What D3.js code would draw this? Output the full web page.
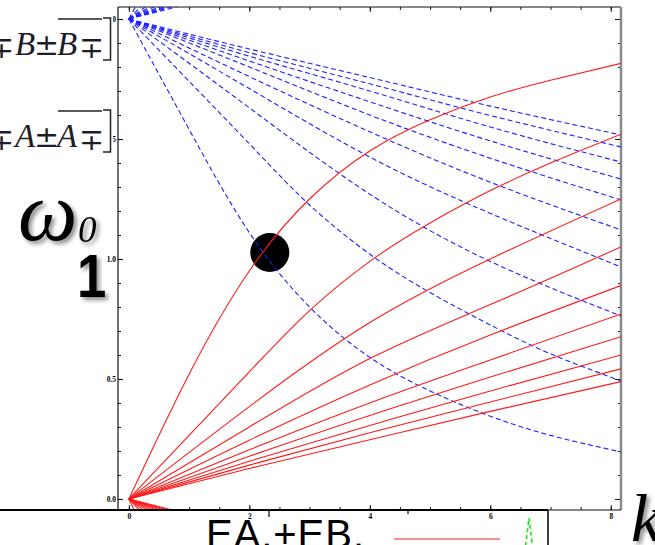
<!DOCTYPE html>
<html>
<head>
<meta charset="utf-8">
<script src="https://cdn.jsdelivr.net/npm/d3@7"></script>
<style>
  html, body { margin: 0; padding: 0; background: #fff; overflow: hidden; }
  svg { display: block; }
</style>
</head>
<body>
<svg id="chart" width="655" height="545"></svg>
<script>
// Plot range (k along x, ω along y)
const kRange = [-0.18, 8.17];
const wRange = [-0.046, 2.05];

// Tick values and labels
const xTickMajor = [0, 2, 4, 6, 8];
const xTickLabels = ["0", "2", "4", "6", "8"];
const xTickMinor = [0, 0.5, 1, 1.5, 2, 2.5, 3, 3.5, 4, 4.5, 5, 5.5, 6, 6.5, 7, 7.5, 8];
const yTickMajor = [0, 0.5, 1, 1.5, 2];
const yTickLabels = ["0.0", "0.5", "1.0", "1.5", "2.0"];
const yTickMinor = [0, 0.1, 0.2, 0.3, 0.4, 0.5, 0.6, 0.7, 0.8, 0.9, 1.0,
                    1.1, 1.2, 1.3, 1.4, 1.5, 1.6, 1.7, 1.8, 1.9, 2.0];

// Lower band: solid red branches leaving ω = 0 at k = 0, as [k, ω]
const lowerBand = [
  [[0, 0], [1, 0.52], [2, 0.95], [3, 1.25], [4, 1.45], [5, 1.58], [6, 1.675], [7, 1.745], [8.17, 1.815]],
  [[0, 0], [2, 0.53], [3, 0.785], [4, 0.99], [5, 1.15], [6, 1.285], [7, 1.40], [8.17, 1.52]],
  [[0, 0], [2, 0.385], [4, 0.735], [6, 1.0], [8.17, 1.25]],
  [[0, 0], [2, 0.30], [4, 0.585], [6, 0.81], [8.17, 1.05]],
  [[0, 0], [2, 0.245], [4, 0.475], [6, 0.683], [8.17, 0.889]],
  [[0, 0], [2, 0.205], [4, 0.40], [6, 0.579], [8.17, 0.771]],
  [[0, 0], [2, 0.178], [4, 0.348], [6, 0.508], [8.17, 0.676]],
  [[0, 0], [2, 0.157], [4, 0.306], [6, 0.45], [8.17, 0.60]],
  [[0, 0], [2, 0.141], [4, 0.276], [6, 0.404], [8.17, 0.542]],
  [[0, 0], [2, 0.127], [4, 0.247], [6, 0.365], [8.17, 0.489]]
];

// Upper band: dashed blue branches leaving ω = 2 at k = 0, as [k, ω]
const upperBand = [
  [[0, 2], [1, 1.54], [2, 1.11], [3, 0.80], [4, 0.59], [5, 0.45], [6, 0.345], [7, 0.265], [8.17, 0.196]],
  [[0, 2], [2, 1.48], [3, 1.225], [4, 1.02], [5, 0.86], [6, 0.725], [7, 0.605], [8.17, 0.492]],
  [[0, 2], [2, 1.63], [4, 1.27], [6, 0.99], [8.17, 0.7625]],
  [[0, 2], [2, 1.71], [4, 1.425], [6, 1.19], [8.17, 0.967]],
  [[0, 2], [2, 1.76], [4, 1.53], [6, 1.32], [8.17, 1.121]],
  [[0, 2], [2, 1.80], [4, 1.60], [6, 1.42], [8.17, 1.246]],
  [[0, 2], [2, 1.825], [4, 1.655], [6, 1.492], [8.17, 1.333]],
  [[0, 2], [2, 1.845], [4, 1.70], [6, 1.55], [8.17, 1.404]],
  [[0, 2], [2, 1.86], [4, 1.73], [6, 1.598], [8.17, 1.467]],
  [[0, 2], [2, 1.875], [4, 1.756], [6, 1.637], [8.17, 1.517]]
];

// Each band also has its ± partner reflected about the band edge
const bandEdges = { lower: 0, upper: 2 };

// Crossing point of the first pair of branches
const crossing = [2.34, 1.027];

const svg = d3.select("#chart");
const frame = { left: 118, right: 621, top: 7, bottom: 510 };

const x = d3.scaleLinear().domain(kRange).range([frame.left, frame.right]);
const y = d3.scaleLinear().domain(wRange).range([frame.bottom, frame.top]);

// Drop shadow used by the large symbols
const defs = svg.append("defs");
const sh = defs.append("filter").attr("id", "shadow")
  .attr("x", "-30%").attr("y", "-30%").attr("width", "170%").attr("height", "170%");
sh.append("feGaussianBlur").attr("in", "SourceAlpha").attr("stdDeviation", 2.2).attr("result", "b");
sh.append("feOffset").attr("in", "b").attr("dx", 3).attr("dy", 3).attr("result", "o");
sh.append("feComponentTransfer").attr("in", "o").attr("result", "s")
  .append("feFuncA").attr("type", "linear").attr("slope", 0.45);
const m = sh.append("feMerge");
m.append("feMergeNode").attr("in", "s");
m.append("feMergeNode").attr("in", "SourceGraphic");

defs.append("clipPath").attr("id", "plotclip").append("rect")
  .attr("x", frame.left).attr("y", frame.top)
  .attr("width", frame.right - frame.left).attr("height", frame.bottom - frame.top);

// Axes (ticks point inward, Mathematica frame style)
const tickFont = "bold 7.5px 'Liberation Serif', 'Times New Roman', serif";

function styleAxis(g) {
  g.select(".domain").remove();
  g.selectAll("line").attr("stroke", "#000").attr("stroke-width", 0.9);
  g.selectAll("text").style("font", tickFont).attr("fill", "#000");
}

svg.append("g").attr("transform", `translate(${frame.left},0)`)
  .call(d3.axisLeft(y).tickValues(yTickMinor).tickSize(-3).tickFormat(""))
  .call(styleAxis);
svg.append("g").attr("transform", `translate(${frame.left},0)`)
  .call(d3.axisLeft(y).tickValues(yTickMajor).tickSizeInner(-5).tickPadding(2)
    .tickFormat((d, i) => yTickLabels[i]))
  .call(styleAxis);

svg.append("g").attr("transform", `translate(${frame.right},0)`)
  .call(d3.axisRight(y).tickValues(yTickMinor).tickSize(-3).tickFormat(""))
  .call(styleAxis);
svg.append("g").attr("transform", `translate(${frame.right},0)`)
  .call(d3.axisRight(y).tickValues(yTickMajor).tickSize(-6).tickFormat(""))
  .call(styleAxis);

svg.append("g").attr("transform", `translate(0,${frame.bottom})`)
  .call(d3.axisBottom(x).tickValues(xTickMinor).tickSize(-3).tickFormat(""))
  .call(styleAxis);
svg.append("g").attr("transform", `translate(0,${frame.bottom})`)
  .call(d3.axisBottom(x).tickValues(xTickMajor).tickSizeInner(-5).tickPadding(4)
    .tickFormat((d, i) => xTickLabels[i]))
  .call(styleAxis);

svg.append("g").attr("transform", `translate(0,${frame.top})`)
  .call(d3.axisTop(x).tickValues(xTickMinor).tickSize(-3).tickFormat(""))
  .call(styleAxis);
svg.append("g").attr("transform", `translate(0,${frame.top})`)
  .call(d3.axisTop(x).tickValues(xTickMajor).tickSize(-5).tickFormat(""))
  .call(styleAxis);

// Frame edges
svg.append("line").attr("x1", frame.left).attr("x2", frame.left)
  .attr("y1", frame.top).attr("y2", frame.bottom).attr("stroke", "#111").attr("stroke-width", 1.2);
svg.append("line").attr("x1", frame.left).attr("x2", frame.right)
  .attr("y1", frame.top).attr("y2", frame.top).attr("stroke", "#111").attr("stroke-width", 1.2);
svg.append("line").attr("x1", frame.right).attr("x2", frame.right)
  .attr("y1", frame.top).attr("y2", frame.bottom).attr("stroke", "#8a8a8a").attr("stroke-width", 2.5);
svg.append("line").attr("x1", frame.left).attr("x2", frame.right)
  .attr("y1", frame.bottom).attr("y2", frame.bottom).attr("stroke", "#111").attr("stroke-width", 1.2);

// Curves
const plot = svg.append("g").attr("clip-path", "url(#plotclip)");

plot.append("circle")
  .attr("cx", x(crossing[0])).attr("cy", y(crossing[1])).attr("r", 19.5)
  .attr("fill", "#000");

const line = d3.line().x(d => x(d[0])).y(d => y(d[1])).curve(d3.curveNatural);
const mirror = (pts, edge) => pts.map(d => [d[0], 2 * edge - d[1]]);

upperBand.forEach(c => {
  [c, mirror(c, bandEdges.upper)].forEach(pts => {
    plot.append("path").attr("d", line(pts))
      .attr("fill", "none").attr("stroke", "#2020ff").attr("stroke-width", 1.1)
      .attr("stroke-dasharray", "5,3");
  });
});
lowerBand.forEach(c => {
  [c, mirror(c, bandEdges.lower)].forEach(pts => {
    plot.append("path").attr("d", line(pts))
      .attr("fill", "none").attr("stroke", "#ff1a1a").attr("stroke-width", 1.1);
  });
});

// Bracket expressions at top left
const serif = "'Liberation Serif', 'Times New Roman', serif";
const signFont = "'DejaVu Serif', serif";
function bracketExpr(letter, base) {
  const g = svg.append("g");
  g.append("rect").attr("x", 0).attr("y", base - 47).attr("width", 113).attr("height", 58).attr("fill", "#fff");
  const parts = [
    { t: "\u2213", x: -11, dy: 3, size: 30, fam: signFont, it: false },
    { t: letter, x: 15, dy: 0, size: 33, fam: serif, it: true },
    { t: "\u00B1", x: 34, dy: 0, size: 30, fam: signFont, it: false },
    { t: letter, x: 57, dy: 0, size: 33, fam: serif, it: true },
    { t: "\u2213", x: 79, dy: 3, size: 30, fam: signFont, it: false }
  ];
  parts.forEach(p => {
    g.append("text").attr("x", p.x).attr("y", base + p.dy)
      .style("font-family", p.fam).style("font-size", p.size + "px")
      .style("font-style", p.it ? "italic" : "normal")
      .attr("fill", "#1d1d2a").text(p.t);
  });
  g.append("line").attr("x1", 58).attr("x2", 102).attr("y1", base - 36).attr("y2", base - 36)
    .attr("stroke", "#222").attr("stroke-width", 1.3);
  g.append("path").attr("d", `M103,${base - 37} H110.5 V${base + 5} H103`)
    .attr("fill", "none").attr("stroke", "#222").attr("stroke-width", 1.5);
}
bracketExpr("B", 55);
bracketExpr("A", 147);

// ω₀ and the level 1 marker
svg.append("text").attr("x", 18).attr("y", 240).attr("filter", "url(#shadow)")
  .style("font-family", serif).style("font-style", "italic").style("font-size", "84px")
  .attr("fill", "#000").text("\u03C9");
svg.append("text").attr("x", 78).attr("y", 242).attr("filter", "url(#shadow)")
  .style("font-family", serif).style("font-style", "italic").style("font-size", "37px")
  .attr("fill", "#000").text("0");
svg.append("text").attr("transform", "translate(77,297) scale(0.85,1)").attr("filter", "url(#shadow)")
  .style("font-family", "'Liberation Sans', Arial, sans-serif").style("font-weight", "bold")
  .style("font-size", "62px").attr("fill", "#000").text("1");

// k label
svg.append("text").attr("x", 631).attr("y", 541).attr("filter", "url(#shadow)")
  .style("font-family", serif).style("font-style", "italic").style("font-size", "68px")
  .attr("fill", "#000").text("k");

// Legend strip along the bottom
svg.append("line").attr("x1", 0).attr("x2", 548).attr("y1", 510).attr("y2", 510)
  .attr("stroke", "#000").attr("stroke-width", 2.2);
svg.append("line").attr("x1", 548).attr("x2", 548).attr("y1", 510).attr("y2", 545)
  .attr("stroke", "#000").attr("stroke-width", 1.5);
svg.append("line").attr("x1", 269).attr("x2", 269).attr("y1", 510).attr("y2", 517)
  .attr("stroke", "#000").attr("stroke-width", 1.2);
svg.append("line").attr("x1", 408).attr("x2", 408).attr("y1", 510).attr("y2", 514)
  .attr("stroke", "#000").attr("stroke-width", 1.2);
svg.append("text").attr("x", 206).attr("y", 548)
  .attr("textLength", 158).attr("lengthAdjust", "spacing")
  .style("font-family", "'Liberation Sans', Arial, sans-serif").style("font-size", "40px")
  .attr("fill", "#000").text("EA.+EB.");
svg.append("line").attr("x1", 394).attr("x2", 500).attr("y1", 539).attr("y2", 539)
  .attr("stroke", "#ff1a1a").attr("stroke-width", 1.2);
svg.append("path").attr("d", "M525.5,546 L529,518 L532.5,546")
  .attr("fill", "none").attr("stroke", "#19e619").attr("stroke-width", 1.6)
  .attr("stroke-dasharray", "4,3");
</script>
</body>
</html>
